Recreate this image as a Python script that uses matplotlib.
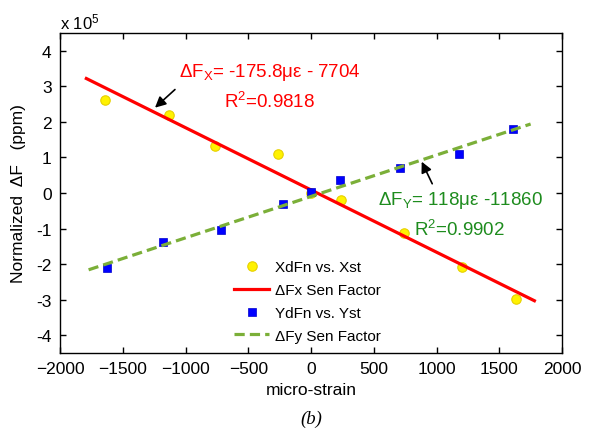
import matplotlib
matplotlib.use("Agg")
import matplotlib.pyplot as plt
import numpy as np

plt.rcParams['font.family'] = ['Liberation Sans', 'DejaVu Sans']
plt.rcParams['mathtext.fontset'] = 'custom'
plt.rcParams['mathtext.rm'] = 'Liberation Sans'
plt.rcParams['mathtext.it'] = 'Liberation Sans:italic'
plt.rcParams['mathtext.sf'] = 'Liberation Sans'

# ---- data (ppm) ----
strain_x = [-1641, -1129, -765, -266, 0, 241, 741, 1201, 1633]
xdfn = [261000, 220000, 132000, 110000, 0, -21000, -112000, -207000, -299000]
strain_y = [-1623, -1182, -720, -226, 0, 231, 707, 1179, 1607]
ydfn = [-211000, -139000, -105000, -32000, 2000, 37000, 71000, 110000, 180000]
fitx_strain = [-1790, 1780]
fitx_val = [322000, -303000]
fity_strain = [-1772, 1750]
fity_val = [-216000, 194000]
xticks = [-2000, -1500, -1000, -500, 0, 500, 1000, 1500, 2000]
yticks = [-4, -3, -2, -1, 0, 1, 2, 3, 4]
scale = 1e5

fig = plt.figure(figsize=(5.98, 4.31), dpi=100)
ax = fig.add_axes([60/598, 1-354/431, 502/598, 320/431])

s = lambda v: np.array(v) / scale

ax.plot(strain_x, s(xdfn), 'o', ms=6.8, mfc='#FFF200', mec='#E6D000', mew=0.8,
        label='XdFn vs. Xst', zorder=3)
ax.plot(fitx_strain, s(fitx_val), '-', color='#FF0000', lw=2.3,
        label='\u0394Fx Sen Factor', zorder=4)
ax.plot(strain_y, s(ydfn), 's', ms=6.2, mfc='#0000FF', mec='#0000CC', mew=0.5,
        label='YdFn vs. Yst', zorder=5)
ax.plot(fity_strain, s(fity_val), '--', color='#7BAF38', lw=2.3, dashes=(3.2, 1.6),
        label='\u0394Fy Sen Factor', zorder=6)

ax.set_xlim(-2000, 2000)
ax.set_ylim(-4.5, 4.5)
ax.set_xticks(xticks)
ax.set_yticks(yticks)
ax.set_yticklabels([str(t) for t in yticks])
ax.tick_params(direction='in', length=4, width=1, top=True, right=True,
               labelsize=12.5, pad=6)
for sp in ax.spines.values():
    sp.set_linewidth(1.0)

ax.set_xlabel('micro-strain', fontsize=12.5, labelpad=4)
ax.set_ylabel('Normalized  \u0394F   (ppm)', fontsize=12.5, labelpad=7)

fig.text(60/598, 1-29/431, 'x 10$^5$', fontsize=12, ha='left', va='baseline')
fig.text(311/598, 1-424/431, '(b)', fontsize=13.5, ha='center', va='baseline',
         family='Liberation Serif', style='italic')

red = '#FF0000'
green = '#1E8C1E'
ax.text(-327, 3.42, '\u0394F$_\\mathrm{X}$= -175.8\u03bc\u03b5 - 7704', color=red,
        fontsize=13.5, ha='center', va='center')
ax.text(-327, 2.58, 'R$^2$=0.9818', color=red, fontsize=13.5,
        ha='center', va='center')
ax.text(1194, -0.19, '\u0394F$_\\mathrm{Y}$= 118\u03bc\u03b5 -11860', color=green,
        fontsize=13.5, ha='center', va='center')
ax.text(1186, -1.02, 'R$^2$=0.9902', color=green, fontsize=13.5,
        ha='center', va='center')

ax.annotate('', xy=(-1243, 2.40), xytext=(-1084, 2.91),
            arrowprops=dict(arrowstyle='-|>', color='black', lw=1.2,
                            mutation_scale=16, shrinkA=0, shrinkB=0), zorder=7)
ax.annotate('', xy=(882, 0.88), xytext=(966, 0.26),
            arrowprops=dict(arrowstyle='-|>', color='black', lw=1.2,
                            mutation_scale=16, shrinkA=0, shrinkB=0), zorder=7)

leg = ax.legend(loc='upper left', bbox_to_anchor=(0.3466, 0.29), frameon=False,
                fontsize=11, handlelength=2.3, handletextpad=0.4,
                labelspacing=0.58, borderpad=0, borderaxespad=0, numpoints=1)

fig.savefig('out.png', dpi=100)
